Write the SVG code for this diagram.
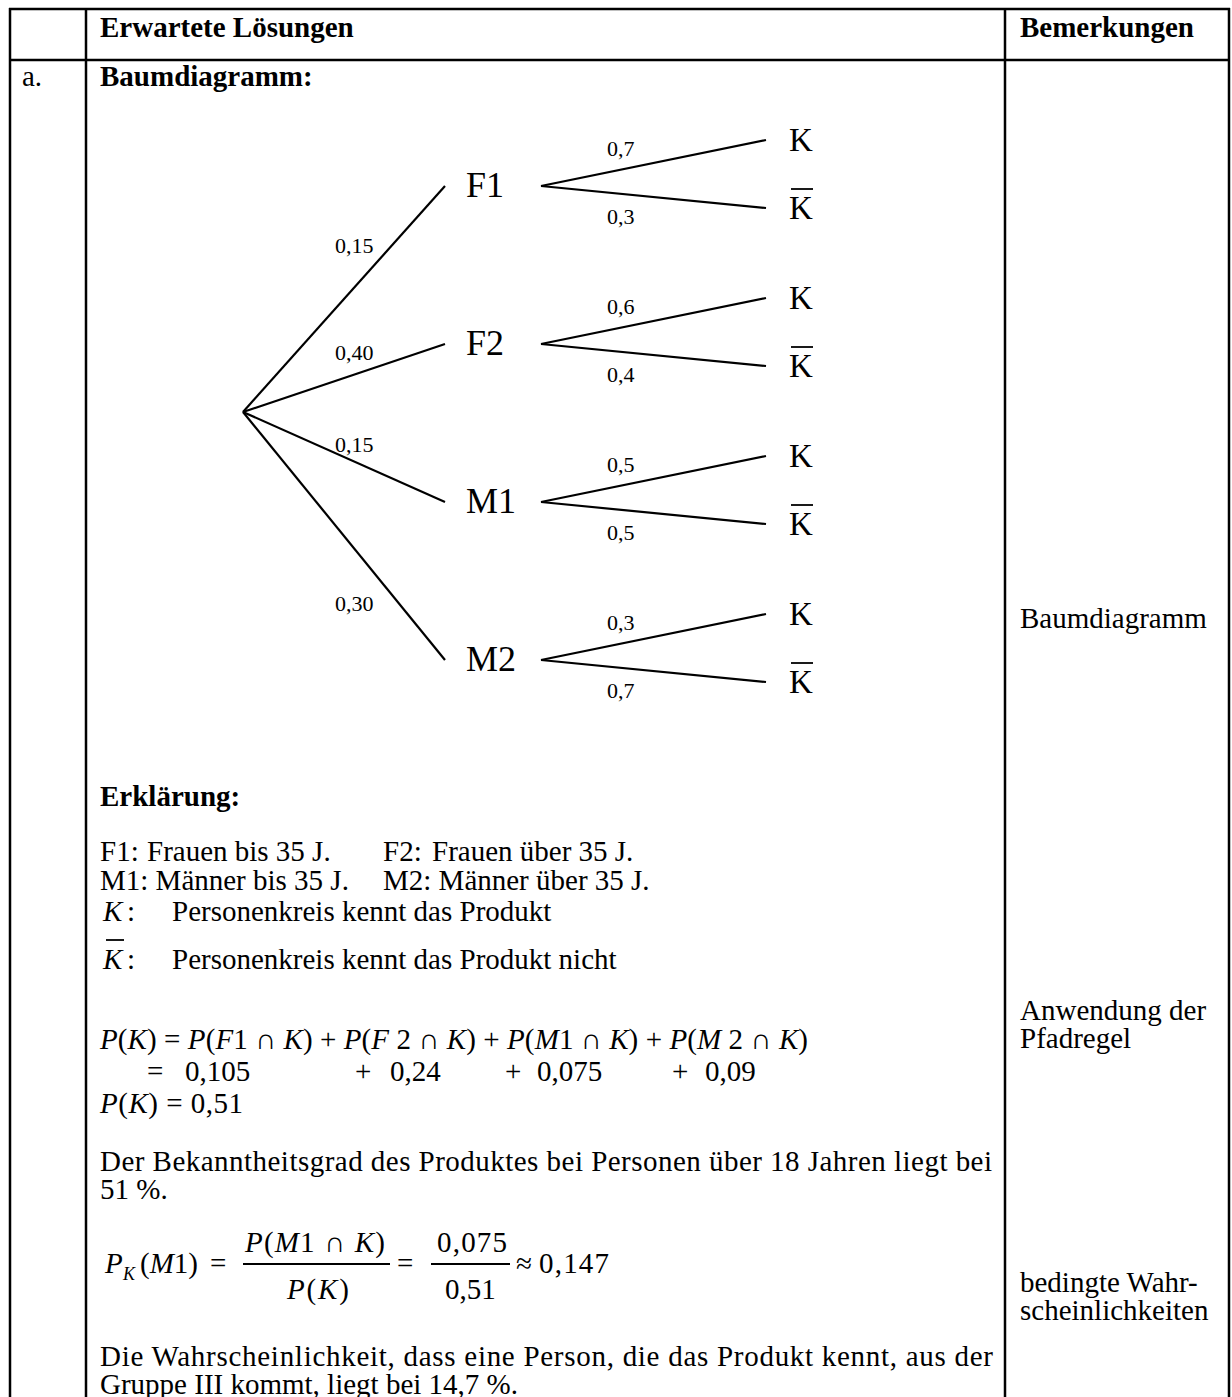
<svg xmlns="http://www.w3.org/2000/svg" width="1232" height="1397" viewBox="0 0 1232 1397">
<style>
text{font-family:"Liberation Serif","Times New Roman",serif;fill:#000}
.r{font-size:29px}
.b{font-size:29px;font-weight:bold}
.m{font-size:29px}
.i{font-style:italic}
.sub{font-size:18px;font-style:italic}
.grid line{stroke:#000;stroke-width:2.5}
.edge{stroke:#000;stroke-width:2.2;fill:none}
.bar{stroke:#000;stroke-width:1.8}
.node{font-size:36px}
.leaf{font-size:33px}
.lbl{font-size:22px}
</style>
<rect width="1232" height="1397" fill="#fff"/>
<g id="table" class="grid">
<line x1="9" y1="9" x2="1230" y2="9"/>
<line x1="9" y1="60" x2="1230" y2="60"/>
<line x1="10" y1="8" x2="10" y2="1397"/>
<line x1="86" y1="8" x2="86" y2="1397"/>
<line x1="1005" y1="8" x2="1005" y2="1397"/>
<line x1="1229" y1="8" x2="1229" y2="1397"/>
</g>
<g id="header">
<text class="b" x="100" y="37">Erwartete Lösungen</text>
<text class="b" x="1020" y="37">Bemerkungen</text>
<text class="r" x="22" y="86">a.</text>
<text class="b" x="100" y="86">Baumdiagramm:</text>
</g>
<g id="connectors">
<line class="edge" x1="243" y1="412" x2="445" y2="186"/>
<line class="edge" x1="243" y1="412" x2="445" y2="344"/>
<line class="edge" x1="243" y1="412" x2="445" y2="502"/>
<line class="edge" x1="243" y1="412" x2="445" y2="660"/>
<line class="edge" x1="541" y1="186" x2="766" y2="140"/>
<line class="edge" x1="541" y1="186" x2="766" y2="208"/>
<line class="edge" x1="541" y1="344" x2="766" y2="298"/>
<line class="edge" x1="541" y1="344" x2="766" y2="366"/>
<line class="edge" x1="541" y1="502" x2="766" y2="456"/>
<line class="edge" x1="541" y1="502" x2="766" y2="524"/>
<line class="edge" x1="541" y1="660" x2="766" y2="614"/>
<line class="edge" x1="541" y1="660" x2="766" y2="682"/>
<text class="lbl" x="335" y="253">0,15</text>
<text class="lbl" x="335" y="360">0,40</text>
<text class="lbl" x="335" y="452">0,15</text>
<text class="lbl" x="335" y="611">0,30</text>
<text class="lbl" x="607" y="156">0,7</text>
<text class="lbl" x="607" y="224">0,3</text>
<text class="lbl" x="607" y="314">0,6</text>
<text class="lbl" x="607" y="382">0,4</text>
<text class="lbl" x="607" y="472">0,5</text>
<text class="lbl" x="607" y="540">0,5</text>
<text class="lbl" x="607" y="630">0,3</text>
<text class="lbl" x="607" y="698">0,7</text>
</g>
<g id="node-F1"><text class="node" x="466" y="197">F1</text></g>
<g id="node-F2"><text class="node" x="466" y="355">F2</text></g>
<g id="node-M1"><text class="node" x="466" y="513">M1</text></g>
<g id="node-M2"><text class="node" x="466" y="671">M2</text></g>
<g id="leaf-F1-K"><text class="leaf" x="789" y="151">K</text></g>
<g id="leaf-F1-Kq"><line class="bar" x1="791" y1="189" x2="813" y2="189"/><text class="leaf" x="789" y="219">K</text></g>
<g id="leaf-F2-K"><text class="leaf" x="789" y="309">K</text></g>
<g id="leaf-F2-Kq"><line class="bar" x1="791" y1="347" x2="813" y2="347"/><text class="leaf" x="789" y="377">K</text></g>
<g id="leaf-M1-K"><text class="leaf" x="789" y="467">K</text></g>
<g id="leaf-M1-Kq"><line class="bar" x1="791" y1="505" x2="813" y2="505"/><text class="leaf" x="789" y="535">K</text></g>
<g id="leaf-M2-K"><text class="leaf" x="789" y="625">K</text></g>
<g id="leaf-M2-Kq"><line class="bar" x1="791" y1="663" x2="813" y2="663"/><text class="leaf" x="789" y="693">K</text></g>
<g id="explanation">
<text class="b" x="100" y="806">Erklärung:</text>
<text class="r" x="100" y="861">F1:</text>
<text class="r" x="147" y="861">Frauen bis 35 J.</text>
<text class="r" x="383" y="861">F2:</text>
<text class="r" x="432" y="861">Frauen über 35 J.</text>
<text class="r" x="100" y="890">M1: Männer bis 35 J.</text>
<text class="r" x="383" y="890">M2: Männer über 35 J.</text>
<text class="m i" x="103" y="921">K</text>
<text class="m" x="127" y="921">:</text>
<text class="r" x="172" y="921">Personenkreis kennt das Produkt</text>
<line class="bar" x1="106" y1="940" x2="124" y2="940"/>
<text class="m i" x="103" y="969">K</text>
<text class="m" x="127" y="969">:</text>
<text class="r" x="172" y="969">Personenkreis kennt das Produkt nicht</text>
</g>
<g id="formula-pk">
<text class="m" x="100" y="1049" textLength="708" lengthAdjust="spacing"><tspan class="i">P</tspan>(<tspan class="i">K</tspan>) = <tspan class="i">P</tspan>(<tspan class="i">F</tspan>1 ∩ <tspan class="i">K</tspan>) + <tspan class="i">P</tspan>(<tspan class="i">F</tspan> 2 ∩ <tspan class="i">K</tspan>) + <tspan class="i">P</tspan>(<tspan class="i">M</tspan>1 ∩ <tspan class="i">K</tspan>) + <tspan class="i">P</tspan>(<tspan class="i">M</tspan> 2 ∩ <tspan class="i">K</tspan>)</text>
<text class="m" x="147" y="1081">=</text>
<text class="m" x="185" y="1081">0,105</text>
<text class="m" x="355" y="1081">+</text>
<text class="m" x="390" y="1081">0,24</text>
<text class="m" x="505" y="1081">+</text>
<text class="m" x="537" y="1081">0,075</text>
<text class="m" x="672" y="1081">+</text>
<text class="m" x="705" y="1081">0,09</text>
<text class="m" x="100" y="1113" textLength="143" lengthAdjust="spacing"><tspan class="i">P</tspan>(<tspan class="i">K</tspan>) = 0,51</text>
</g>
<g id="text-1">
<text class="r" x="100" y="1171" textLength="892" lengthAdjust="spacing">Der Bekanntheitsgrad des Produktes bei Personen über 18 Jahren liegt bei</text>
<text class="r" x="100" y="1199">51 %.</text>
</g>
<g id="formula-cond">
<text class="m i" x="105" y="1273">P</text>
<text class="sub" x="123" y="1280">K</text>
<text class="m" x="140" y="1273">(<tspan class="i">M</tspan>1)</text>
<text class="m" x="210" y="1273">=</text>
<text class="m" x="245" y="1252" textLength="140" lengthAdjust="spacing"><tspan class="i">P</tspan>(<tspan class="i">M</tspan>1 ∩ <tspan class="i">K</tspan>)</text>
<line class="bar" x1="243" y1="1264" x2="390" y2="1264"/>
<text class="m" x="287" y="1299" textLength="62" lengthAdjust="spacing"><tspan class="i">P</tspan>(<tspan class="i">K</tspan>)</text>
<text class="m" x="397" y="1273">=</text>
<text class="m" x="437" y="1252" textLength="70" lengthAdjust="spacing">0,075</text>
<line class="bar" x1="431" y1="1264" x2="510" y2="1264"/>
<text class="m" x="445" y="1299">0,51</text>
<text class="m" x="516" y="1273">≈</text>
<text class="m" x="539" y="1273" textLength="70" lengthAdjust="spacing">0,147</text>
</g>
<g id="text-2">
<text class="r" x="100" y="1366" textLength="893" lengthAdjust="spacing">Die Wahrscheinlichkeit, dass eine Person, die das Produkt kennt, aus der</text>
<text class="r" x="100" y="1394">Gruppe III kommt, liegt bei 14,7 %.</text>
</g>
<g id="remarks">
<text class="r" x="1020" y="628">Baumdiagramm</text>
<text class="r" x="1020" y="1020">Anwendung der</text>
<text class="r" x="1020" y="1048">Pfadregel</text>
<text class="r" x="1020" y="1292">bedingte Wahr-</text>
<text class="r" x="1020" y="1320">scheinlichkeiten</text>
</g>
</svg>
